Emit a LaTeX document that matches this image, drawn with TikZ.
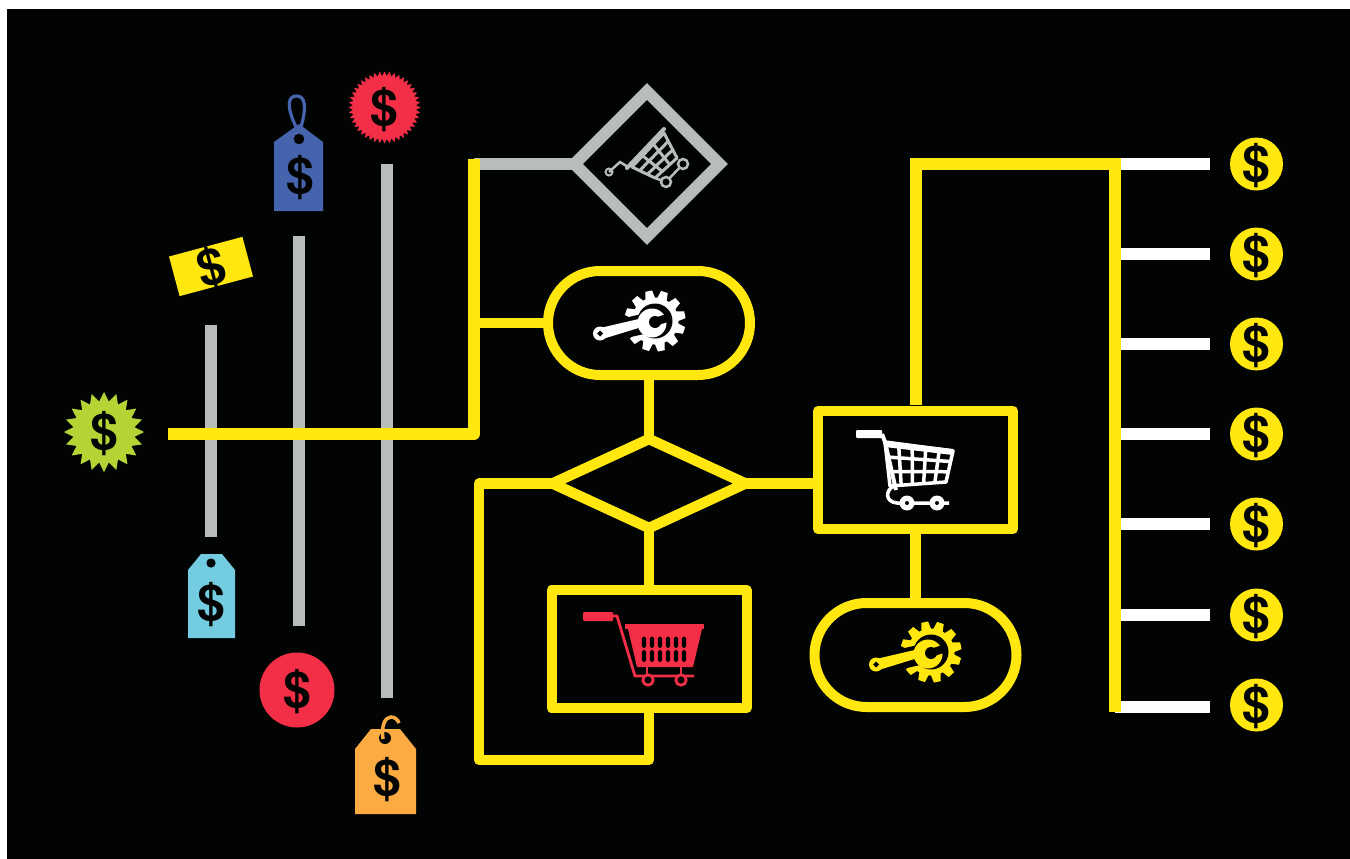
\documentclass[tikz,border=0pt]{standalone}
\usepackage{fontspec}
\setmainfont{Liberation Sans}
\newfontfamily\dollarfont{TeX Gyre Heros}
\usetikzlibrary{shapes.geometric,calc}
\definecolor{flowyellow}{HTML}{FFE70F}
\definecolor{railgrey}{HTML}{B7BEBA}
\definecolor{pricered}{HTML}{F22F46}
\definecolor{pricegreen}{HTML}{B5D334}
\definecolor{priceblue}{HTML}{4664AE}
\definecolor{pricecyan}{HTML}{74CCE0}
\definecolor{priceorange}{HTML}{FBAB42}
\definecolor{backblack}{HTML}{020403}
\newcommand{\usd}{\makebox[0pt]{\smash{\raisebox{-0.35em}{\$}}}}
\tikzset{
  dollar/.style={font=\dollarfont\fontsize{50}{50}\selectfont\bfseries, text=backblack, inner sep=0pt, outer sep=0pt},
  coin/.style={dollar, circle, fill=flowyellow, minimum size=53pt},
  flowline/.style={draw=flowyellow, line width=12pt},
  stemline/.style={draw=flowyellow, line width=10.5pt},
  railline/.style={draw=railgrey, line width=12pt},
  payline/.style={draw=white, line width=12pt, shorten >=20pt},
  flowbox/.style={draw=flowyellow, line width=10pt, line join=round, minimum width=195pt, minimum height=118pt, inner sep=0pt, outer sep=0pt},
  flowpill/.style={flowbox, minimum width=202pt, minimum height=104pt, rounded corners=52pt},
  pics/gearwrench/.style={code={
    \fill[#1] (0,0) circle (23.5);
    \foreach \a in {0,30,...,330}
      \fill[#1, rotate=\a+12] (-3.5,-30.5) -- (3.5,-30.5) -- (5,-22) -- (-5,-22) -- cycle;
    \fill[backblack] (0,0) circle (17.5);
    \draw[backblack, line width=20pt] (-12,3) -- (-34,8);
    \fill[#1] (-57,7.5) -- (-12,-3) -- (-10,5) -- (-54,18.5) -- cycle;
    \fill[#1] (-55,12.5) circle (7);
    \fill[backblack] (-58,12.5) -- (-55,9.5) -- (-52,12.5) -- (-55,15.5) -- cycle;
    \fill[#1] (-3,2) circle (14.5);
    \fill[backblack] (0,1) circle (6);
    \draw[backblack, line width=8pt] (0,1) -- (15,-4);
  }},
}
\newcommand{\basketmesh}[6]{%
  \draw[#5, line width=#6pt, line join=round] (#1) -- (#2) -- (#3) -- (#4) -- cycle;
}
\begin{document}
\begin{tikzpicture}[x=1pt, y=-1pt]
  \useasboundingbox (0,0) rectangle (1350,859);
  \fill[white] (0,0) rectangle (1350,859);
  \fill[backblack] (7,9) rectangle (1350,859);

  % free ends of the rails
  \coordinate (rail1top) at (211,325);
  \coordinate (rail1end) at (211,537);
  \coordinate (rail2top) at (299,236);
  \coordinate (rail2end) at (299,626);
  \coordinate (rail3top) at (387,164);
  \coordinate (rail3end) at (387,698);
  \coordinate (flowstart) at (168,434);
  \coordinate (trunkfoot) at (474,434);
  \coordinate (trunkmid) at (474,322);
  \coordinate (trunktop) at (474,159);
  \coordinate (trunkgrey) at (474,164);
  \coordinate (loopfoot) at (479,760);
  \coordinate (busfoot) at (1115,712);
  \coordinate (bus1) at (1115,164);
  \coordinate (bus2) at (1115,254);
  \coordinate (bus3) at (1115,344);
  \coordinate (bus4) at (1115,434);
  \coordinate (bus5) at (1115,524);
  \coordinate (bus6) at (1115,615);
  \coordinate (bus7) at (1115,706.5);

  % price marks on the left
  \node[dollar, star, star points=20, star point ratio=1.3, fill=pricegreen, minimum size=80pt] (greenstar) at (104,432) {\usd};
  \node[dollar, rectangle, rotate=15, fill=flowyellow, minimum width=76pt, minimum height=41pt] (pricebill) at (211,266.5) {\usd};
  \node[dollar, star, star points=44, star point ratio=1.14, fill=pricered, minimum size=72pt] (redstar) at (384.5,107.5) {\usd};
  \node[dollar, circle, fill=pricered, minimum size=75pt] (redcoin) at (297,690) {\usd};

  \draw[priceblue, line width=3.2pt] (296,127) .. controls (286,106) and (288,96) .. (296.5,96) .. controls (305,96) and (307,106) .. (301,127);
  \fill[priceblue] (274,142) -- (299,124) -- (323,142) -- (323,211) -- (274,211) -- cycle;
  \fill[backblack] (299,139) circle (5.3);
  \node[dollar] (bluetag) at (300,176) {\usd};

  \fill[pricecyan] (188,570) -- (201,554) -- (222,554) -- (235,570) -- (235,638) -- (188,638) -- cycle;
  \fill[backblack] (211,563) circle (4.6);
  \node[dollar] (cyantag) at (211,603) {\usd};

  \fill[priceorange] (355,749) -- (371,729) -- (400,729) -- (416,749) -- (416,814) -- (355,814) -- cycle;
  \fill[backblack] (385,738) circle (6);
  \draw[priceorange, line width=3.5pt] (383,739) .. controls (381,726) and (385,717) .. (391,717) .. controls (395,717) and (398,720) .. (399,723);
  \node[dollar] (orangetag) at (387.5,778) {\usd};

  % rails and pay lines go under the flow
  \draw[railline] (rail1top) -- (rail1end);
  \draw[railline] (rail2top) -- (rail2end);
  \draw[railline] (rail3top) -- (rail3end);

  \node[coin] (coin1) at (1256.5,164) {\usd};
  \node[coin] (coin2) at (1256.5,254) {\usd};
  \node[coin] (coin3) at (1256.5,344) {\usd};
  \node[coin] (coin4) at (1256.5,434) {\usd};
  \node[coin] (coin5) at (1256.5,524) {\usd};
  \node[coin] (coin6) at (1256.5,615) {\usd};
  \node[coin] (coin7) at (1256.5,705) {\usd};
  \draw[payline] (bus1) -- (coin1);
  \draw[payline] (bus2) -- (coin2);
  \draw[payline] (bus3) -- (coin3);
  \draw[payline] (bus4) -- (coin4);
  \draw[payline] (bus5) -- (coin5);
  \draw[payline] (bus6) -- (coin6);
  \draw[payline] (bus7) -- (bus7 -| coin7.west);

  % flow chart
  \node[diamond, aspect=1, draw=railgrey, line width=12pt, minimum width=145pt, minimum height=145pt, inner sep=0pt, outer sep=0pt] (greydiamond) at (647,164) {};
  \node[flowpill] (fixpill) at (649,323) {};
  \node[diamond, aspect=2.157, draw=flowyellow, line width=10.5pt, minimum width=193pt, minimum height=89pt, inner sep=0pt, outer sep=0pt] (choice) at (649,483.5) {};
  \node[flowbox] (redbox) at (649,649) {};
  \node[flowbox] (cartbox) at (915.5,470) {};
  \node[flowpill] (lastpill) at (915.5,655) {};

  \draw[railline] (trunkgrey) -- (greydiamond.west);
  \draw[flowline, line join=round] (flowstart) -- (trunkfoot) -- (trunktop);
  \draw[stemline] (fixpill.west -| trunkmid) -- (fixpill.west);
  \draw[stemline] (fixpill.south) -- (choice.north);
  \draw[stemline] (choice.south) -- (redbox.north);
  \draw[stemline] (choice.east) -- (choice.east -| cartbox.west);
  \draw[stemline] (cartbox.south) -- (lastpill.north);
  \draw[stemline, line join=round] (redbox.south) |- (loopfoot) |- (choice.west);
  \draw[flowline, line join=miter] (cartbox.north) ++(0,-6) |- (bus1) -- (busfoot);

  % icons
  \pic at (655,321) {gearwrench=white};
  \pic at (931,652) {gearwrench=flowyellow};

  % white cart
  \fill[white, rounded corners=1pt] (856,430) rectangle (882,438);
  \draw[white, line width=4pt] (882,434) -- (885,442) -- (896,490);
  \draw[white, line width=6pt] (885,444) -- (953,452);
  \basketmesh{885,442}{953,451}{946,482}{890,486}{white}{3.5}
  \foreach \t in {0.2,0.4,0.6,0.8}
    \draw[white, line width=3.5pt] ($(885,442)!\t!(953,451)$) -- ($(890,486)!\t!(946,482)$);
  \foreach \t in {0.34,0.67}
    \draw[white, line width=3.5pt] ($(885,442)!\t!(890,486)$) -- ($(953,451)!\t!(946,482)$);
  \draw[white, line width=3.5pt] (894,486) .. controls (885,490) and (885,502) .. (897,503) -- (949,503);
  \fill[white] (907,503) circle (7.5) (937,503) circle (7.5);
  \fill[backblack] (907,503) circle (2) (937,503) circle (2);

  % grey cart
  \draw[railgrey, line width=4pt, line cap=round] (627,168) -- (664,129);
  \draw[railgrey, line width=2.5pt] (609,172) -- (620,162) -- (628,167);
  \draw[railgrey, line width=2pt] (609,172) circle (3.5);
  \basketmesh{632,167}{664,133}{677,158}{655,178}{railgrey}{3}
  \foreach \t in {0.33,0.67}
    \draw[railgrey, line width=3pt] ($(632,167)!\t!(664,133)$) -- ($(655,178)!\t!(677,158)$);
  \foreach \t in {0.33,0.67}
    \draw[railgrey, line width=3pt] ($(632,167)!\t!(655,178)$) -- ($(664,133)!\t!(677,158)$);
  \draw[railgrey, line width=2.5pt] (655,178) -- (666,182) (666,182) -- (683,164);
  \draw[railgrey, line width=2.5pt, fill=backblack] (666,182) circle (5) (683,164) circle (5);

  % red cart
  \fill[pricered, rounded corners=1pt] (583,612) rectangle (613,621);
  \draw[pricered, line width=2.8pt] (613,616) -- (617,616) -- (635,676) -- (694,676);
  \fill[pricered] (625,624) rectangle (704,629);
  \fill[pricered] (628,629) -- (702,629) -- (693,667) -- (637,667) -- cycle;
  \draw[pricered, line width=2.8pt] (647,667) -- (647,676) (681,667) -- (681,676);
  \draw[pricered, line width=2.8pt, fill=backblack] (648,680) circle (5.2) (681,680) circle (5.2);
  \foreach \x in {644,652,660,668,676,684} {
    \fill[backblack, rounded corners=1.8pt] (\x-2.2,636.5) rectangle (\x+2.2,648);
    \fill[backblack, rounded corners=1.8pt] (\x-2.2,650) rectangle (\x+2.2,662);
  }
\end{tikzpicture}
\end{document}
